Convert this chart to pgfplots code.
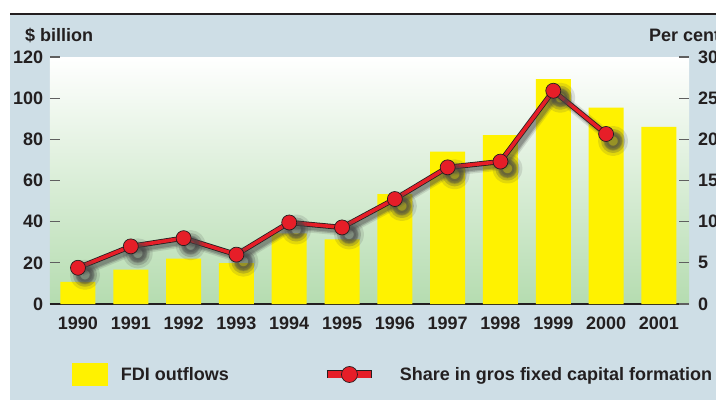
\documentclass[border=0pt]{standalone}
\usepackage{fontspec}
\setmainfont{Liberation Sans}
\usepackage{pgfplots}
\usepackage{pgfplotstable}
\pgfplotsset{compat=1.18}

\definecolor{bgblue}{RGB}{206,222,230}
\definecolor{plotgreen}{RGB}{181,220,176}
\definecolor{baryellow}{RGB}{255,242,0}
\definecolor{linered}{RGB}{230,30,40}
\definecolor{inkdark}{RGB}{35,31,32}
\definecolor{tickgray}{RGB}{95,95,95}
\definecolor{shadowgray}{RGB}{70,70,70}

% FDI outflows, $ billion (0 = 1990)
\pgfplotstableread{
x fdi
0 10.8
1 16.7
2 22.0
3 19.9
4 34.3
5 31.4
6 53.4
7 74.0
8 82.0
9 109.2
10 95.4
11 86.0
}\fditable

% share in gross fixed capital formation, per cent
\pgfplotstableread{
x share
0 4.4
1 7.0
2 8.0
3 6.0
4 9.9
5 9.3
6 12.75
7 16.6
8 17.3
9 25.9
10 20.65
}\sharetable

\pgfplotsset{
  common/.style={
    at={(50pt,-304pt)}, anchor=south west,
    scale only axis, width=639pt, height=247pt,
    xmin=-0.53, xmax=11.57,
    tick align=inside, major tick length=10pt,
    y tick style={tickgray, line width=1.2pt},
    tick label style={font=\bfseries\fontsize{18}{22}\selectfont, text=inkdark},
    /pgf/number format/assume math mode=true,
    legend style={draw=none, fill=none, inner sep=0pt, outer sep=0pt,
      nodes={inner sep=0pt}, text=inkdark,
      font=\bfseries\fontsize{18}{22}\selectfont},
  },
  shadow/.style={forget plot, draw=shadowgray, line join=round,
    mark=*, mark options={draw=none, fill=shadowgray},
    transform canvas={shift={(3.5pt,-3.5pt)}}},
}

\begin{document}
\begin{tikzpicture}[font=\bfseries\fontsize{18}{22}\selectfont]
\path[use as bounding box] (0pt,0pt) rectangle (716pt,-409pt);
\clip (0pt,0pt) rectangle (716pt,-409pt);
\begin{scope}[x=1pt, y=1pt]
  \fill[white] (0,0) rectangle (716,-409);
  \fill[bgblue] (10,-15) rectangle (716,-400);
  \draw[line width=2.5pt, inkdark] (10,-14) -- (716,-14);
  \node[anchor=base west, inner sep=0pt, text=inkdark] at (25,-41.7) {\$ billion};
  \node[anchor=base west, inner sep=0pt, text=inkdark] at (649,-41.7) {Per cent};
\end{scope}

\begin{axis}[common,
  ymin=0, ymax=120, ytick={0,20,...,120},
  axis background/.style={shade, top color=white, bottom color=plotgreen},
  axis x line*=bottom, axis y line*=left,
  x axis line style={-, line width=2.5pt, color=inkdark},
  y axis line style={draw=none},
  xtick=data, xticklabels={1990,1991,1992,1993,1994,1995,1996,1997,1998,1999,2000,2001},
  x tick style={draw=none},
  xticklabel style={inner sep=0pt, yshift=-12.5pt},
  yticklabel style={inner sep=0pt, xshift=-6.7pt},
  legend style={at={(0.0344,-0.2854)}, anchor=west, column sep=13pt},
]
\addplot[ybar, bar width=35pt, fill=baryellow, draw=none,
  legend image code/.code={\fill[baryellow] (0pt,-11.5pt) rectangle (36pt,11.5pt);}]
  table[x=x, y=fdi] {\fditable};
\addlegendentry{FDI outflows}
\end{axis}

\begin{axis}[common,
  ymin=0, ymax=30, ytick={0,5,...,30},
  axis x line=none, axis y line*=right,
  y axis line style={draw=none},
  xtick=\empty,
  yticklabel style={inner sep=0pt, xshift=9pt},
  legend style={at={(0.4272,-0.2854)}, anchor=west, column sep=24pt},
]
% soft shadow under the line, offset down-right
\addplot[shadow, opacity=0.15, line width=10pt, mark size=10pt]
  table[x=x, y=share] {\sharetable};
\addplot[shadow, opacity=0.25, line width=7pt, mark size=8.5pt]
  table[x=x, y=share] {\sharetable};
\addplot[shadow, opacity=0.3, line width=4.5pt, mark size=7pt]
  table[x=x, y=share] {\sharetable};
% outline and line
\addplot[forget plot, draw=inkdark, line width=5.2pt, line join=round]
  table[x=x, y=share] {\sharetable};
\addplot[draw=linered, line width=3.6pt, line join=round,
  mark=*, mark size=7.5pt, mark options={fill=linered, draw=inkdark, line width=0.7pt},
  legend image code/.code={
    \draw[line width=8pt, inkdark] (0pt,0pt) -- (45pt,0pt);
    \draw[line width=6.4pt, linered] (0.8pt,0pt) -- (44.2pt,0pt);
    \draw[fill=linered, draw=inkdark, line width=0.7pt] (22.5pt,0pt) circle (8pt);
  }]
  table[x=x, y=share] {\sharetable};
\addlegendentry{Share in gros fixed capital formation}
\end{axis}
\end{tikzpicture}
\end{document}
